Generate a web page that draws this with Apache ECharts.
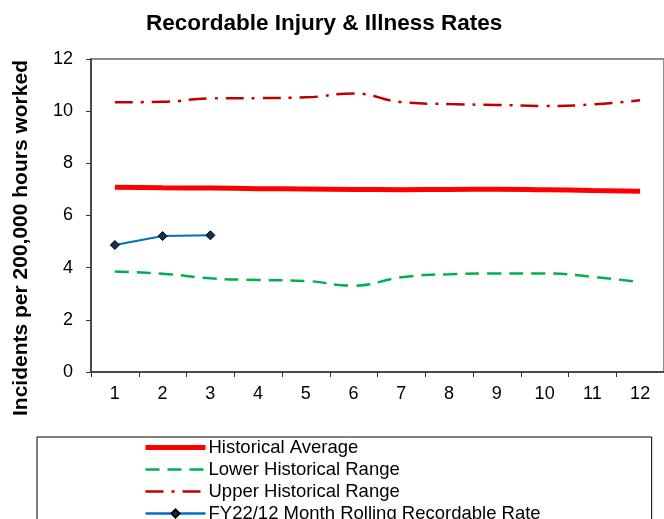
<!DOCTYPE html>
<html>
<head>
<meta charset="utf-8">
<script src="https://cdn.jsdelivr.net/npm/echarts@6/dist/echarts.min.js"></script>
<style>
  html, body { margin: 0; padding: 0; background: #fff; }
  #main { width: 664px; height: 519px; }
</style>
</head>
<body>
<div id="main"></div>
<script>
var months = ['1', '2', '3', '4', '5', '6', '7', '8', '9', '10', '11', '12'];
var histAvg = [7.08, 7.06, 7.05, 7.03, 7.02, 7.00, 6.99, 7.00, 7.01, 6.99, 6.96, 6.93];
var lowerRange = [3.85, 3.77, 3.59, 3.53, 3.49, 3.31, 3.63, 3.75, 3.78, 3.78, 3.65, 3.44];
var upperRange = [10.34, 10.36, 10.49, 10.50, 10.53, 10.68, 10.35, 10.27, 10.24, 10.20, 10.26, 10.42];
var fy22Rate = [4.87, 5.21, 5.24];

var font = 'Liberation Sans, Arial, sans-serif';
var myChart = echarts.init(document.getElementById('main'));

var option = {
    animation: false,
    title: {
        text: 'Recordable Injury & Illness Rates',
        left: 141,
        top: 7,
        textStyle: { fontFamily: font, fontSize: 22.5, fontWeight: 'bold', color: '#000' }
    },
    graphic: [{
        type: 'text',
        x: 21,
        y: 238,
        rotation: Math.PI / 2,
        style: {
            text: 'Incidents per 200,000 hours worked',
            font: 'bold 21px ' + font,
            fill: '#000',
            align: 'center',
            verticalAlign: 'middle'
        }
    }],
    grid: {
        left: 91, right: -2, top: 59, bottom: 147,
        show: true, borderColor: '#8c8c8c', borderWidth: 2
    },
    legend: {
        orient: 'vertical',
        left: 37,
        top: 437,
        height: 120,
        itemWidth: 60,
        itemHeight: 10,
        itemGap: 3,
        padding: [1, 111, 5, 106],
        borderColor: '#000',
        borderWidth: 1,
        textStyle: { fontFamily: font, fontSize: 18.5, color: '#000', padding: [0, 0, 0, -2] },
        data: [
            { name: 'Historical Average', itemStyle: { opacity: 0 }, lineStyle: { width: 5 } },
            { name: 'Lower Historical Range', itemStyle: { opacity: 0 }, lineStyle: { width: 2.5 } },
            { name: 'Upper Historical Range', itemStyle: { opacity: 0 }, lineStyle: { width: 2.5 } },
            { name: 'FY22/12 Month Rolling Recordable Rate', lineStyle: { width: 2.5 } }
        ]
    },
    xAxis: {
        type: 'category',
        data: months,
        boundaryGap: true,
        axisLine: { lineStyle: { color: '#333', width: 1.5 } },
        axisTick: { show: true, length: 5, lineStyle: { color: '#333' } },
        axisLabel: { fontFamily: font, fontSize: 18, color: '#000', margin: 13 }
    },
    yAxis: {
        type: 'value',
        min: 0, max: 12, interval: 2,
        axisLine: { show: true, lineStyle: { color: '#333', width: 1.5 } },
        axisTick: { show: true, length: 5, lineStyle: { color: '#333' } },
        axisLabel: { fontFamily: font, fontSize: 18, color: '#000', margin: 18 },
        splitLine: { show: false }
    },
    series: [{
        name: 'Historical Average',
        type: 'line',
        data: histAvg,
        smooth: true,
        symbol: 'none',
        lineStyle: { color: '#ff0000', width: 5 },
        itemStyle: { color: '#ff0000' }
    }, {
        name: 'Lower Historical Range',
        type: 'line',
        data: lowerRange,
        smooth: true,
        symbol: 'none',
        lineStyle: { color: '#00b050', width: 2.5, type: [14, 8] },
        itemStyle: { color: '#00b050' }
    }, {
        name: 'Upper Historical Range',
        type: 'line',
        data: upperRange,
        smooth: true,
        symbol: 'none',
        lineStyle: { color: '#c00000', width: 2.5, type: [18, 8, 3, 8] },
        itemStyle: { color: '#c00000' }
    }, {
        name: 'FY22/12 Month Rolling Recordable Rate',
        type: 'line',
        data: fy22Rate,
        symbol: 'diamond',
        symbolSize: 9,
        lineStyle: { color: '#0070c0', width: 2 },
        itemStyle: { color: '#17324d', borderColor: '#000', borderWidth: 1 }
    }]
};

myChart.setOption(option);
</script>
</body>
</html>
